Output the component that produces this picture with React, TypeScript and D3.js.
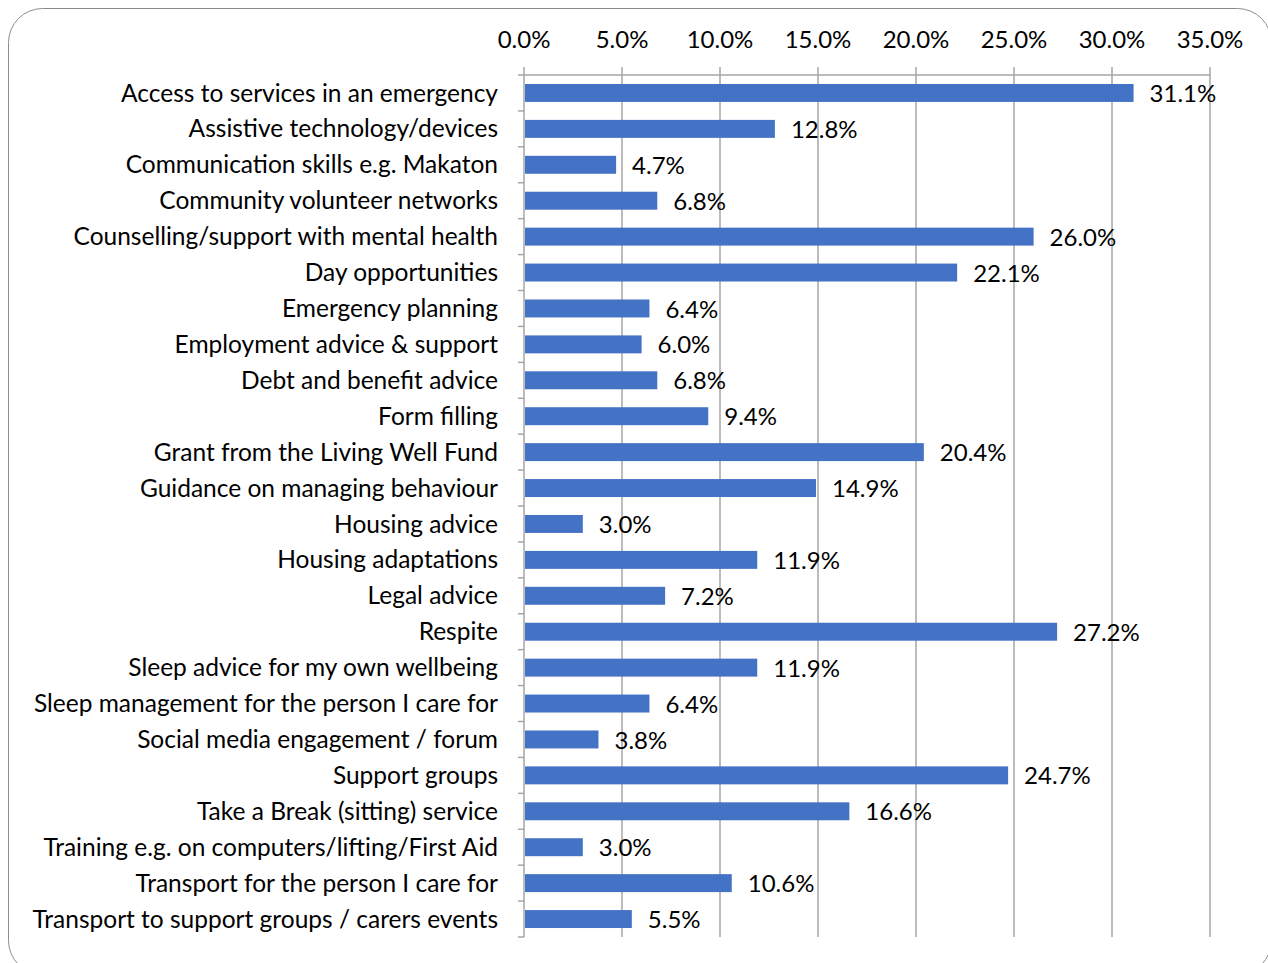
import * as d3 from 'd3';

const categories = [
    'Access to services in an emergency',
    'Assistive technology/devices',
    'Communication skills e.g. Makaton',
    'Community volunteer networks',
    'Counselling/support with mental health',
    'Day opportunities',
    'Emergency planning',
    'Employment advice & support',
    'Debt and benefit advice',
    'Form filling',
    'Grant from the Living Well Fund',
    'Guidance on managing behaviour',
    'Housing advice',
    'Housing adaptations',
    'Legal advice',
    'Respite',
    'Sleep advice for my own wellbeing',
    'Sleep management for the person I care for',
    'Social media engagement / forum',
    'Support groups',
    'Take a Break (sitting) service',
    'Training e.g. on computers/lifting/First Aid',
    'Transport for the person I care for',
    'Transport to support groups / carers events',
];

const values = [
    31.1, 12.8, 4.7, 6.8, 26.0, 22.1, 6.4, 6.0, 6.8, 9.4, 20.4, 14.9, 3.0, 11.9,
    7.2, 27.2, 11.9, 6.4, 3.8, 24.7, 16.6, 3.0, 10.6, 5.5,
];

const xTicks = [0, 5, 10, 15, 20, 25, 30, 35];

const W = 1268;
const H = 963;
const plot = { left: 524, right: 1210, top: 75, bottom: 937 };
const font = 'Lato, "Open Sans", sans-serif';

export default function App() {
    const x = d3.scaleLinear().domain([0, 35]).range([plot.left, plot.right]);
    const y = d3
        .scaleBand<string>()
        .domain(categories)
        .range([plot.top, plot.bottom])
        .paddingInner(0.5)
        .paddingOuter(0.25);
    const step = y.step();
    const fmt = (v: number) => v.toFixed(1) + '%';

    return (
        <svg
            width={W}
            height={H}
            style={{ position: 'absolute', left: 0, top: 0, background: '#fff' }}
            fontFamily={font}
        >
            <rect x={8.5} y={8.5} width={1263} height={966} rx={34} fill="#fff" stroke="#8c8c8c" strokeWidth={1} />
            {/* grid lines + top ticks */}
            {xTicks.map((t) => (
                <line
                    key={'g' + t}
                    x1={x(t)}
                    x2={x(t)}
                    y1={plot.top - 8}
                    y2={plot.bottom}
                    stroke="#a6a6a6"
                    strokeWidth={1.5}
                />
            ))}
            <line x1={plot.left} x2={plot.right} y1={plot.top} y2={plot.top} stroke="#a6a6a6" strokeWidth={1.5} />
            {xTicks.map((t) => (
                <text key={'t' + t} x={x(t)} y={48} textAnchor="middle" fontSize={24} fill="#000">
                    {fmt(t)}
                </text>
            ))}
            {/* left category ticks */}
            {d3.range(categories.length + 1).map((i) => (
                <line
                    key={'c' + i}
                    x1={plot.left - 6}
                    x2={plot.left}
                    y1={plot.top + i * step}
                    y2={plot.top + i * step}
                    stroke="#a6a6a6"
                    strokeWidth={1.5}
                />
            ))}
            {categories.map((c, i) => (
                <g key={c}>
                    <rect
                        x={x(0) + 1}
                        y={y(c)!}
                        width={x(values[i]) - x(0) - 1}
                        height={y.bandwidth()}
                        fill="#4472c4"
                    />
                    <text
                        x={498}
                        y={y(c)! + y.bandwidth() / 2}
                        dy="0.35em"
                        textAnchor="end"
                        fontSize={24.5}
                        fill="#000"
                    >
                        {c}
                    </text>
                    <text
                        x={x(values[i]) + 16}
                        y={y(c)! + y.bandwidth() / 2}
                        dy="0.38em"
                        fontSize={24}
                        fill="#000"
                    >
                        {fmt(values[i])}
                    </text>
                </g>
            ))}
        </svg>
    );
}
